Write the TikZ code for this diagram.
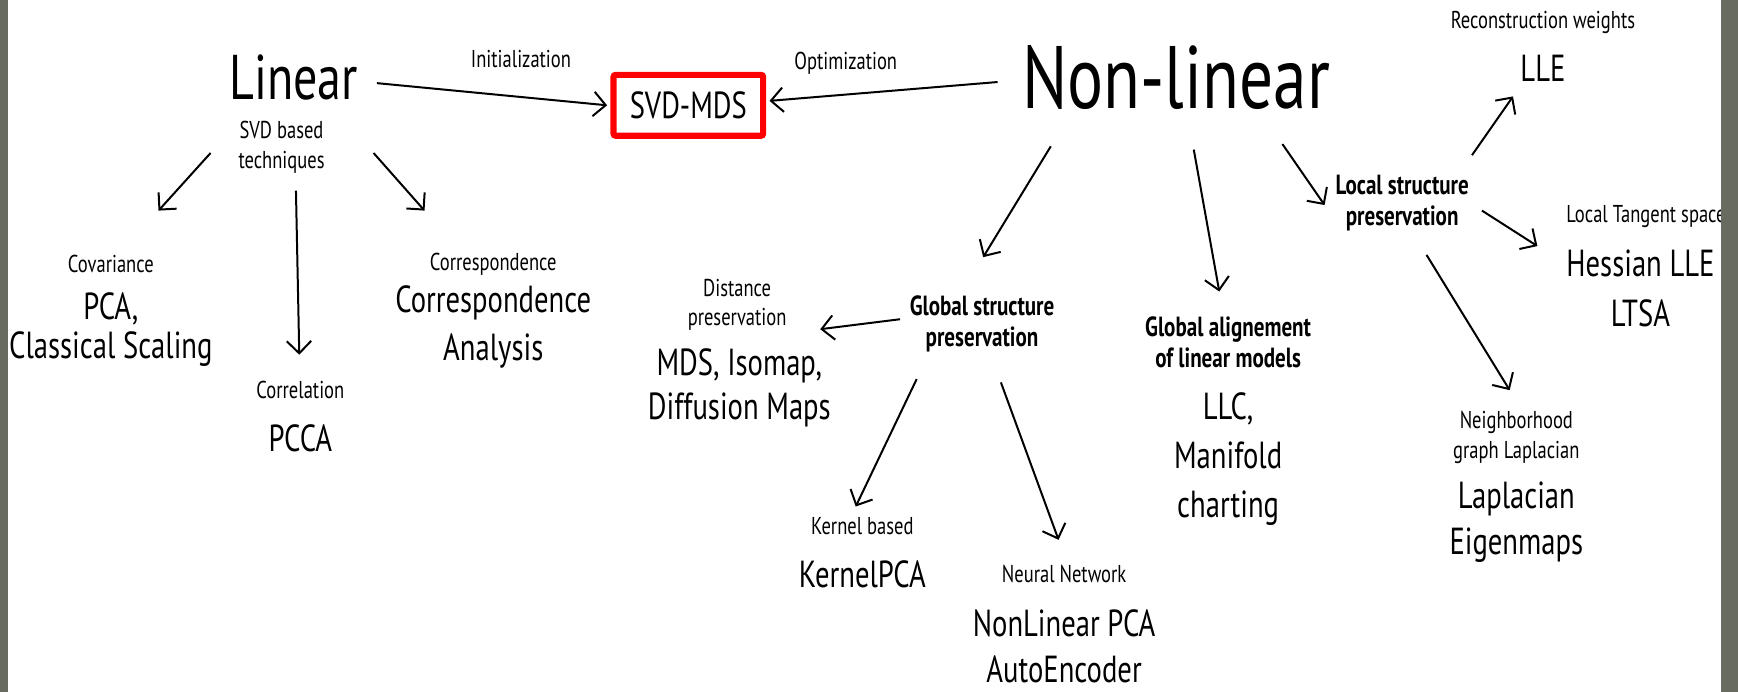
\documentclass[tikz,border=0pt]{standalone}
\usepackage{fontspec}
\setmainfont{PT Sans}[FakeStretch=0.76]
\usetikzlibrary{arrows.meta}
\definecolor{stripgrey}{RGB}{104,107,96}
\definecolor{boxred}{RGB}{255,0,0}
\begin{document}
\begin{tikzpicture}[x=1pt,y=-1pt,
  sm/.style={inner sep=0pt, align=center, font=\fontsize{22}{27}\selectfont},
  md/.style={inner sep=0pt, align=center, font=\fontsize{34}{#1}\selectfont},
  md/.default=40,
  bd/.style={inner sep=0pt, align=center, font=\bfseries\fontsize{25}{28}\selectfont},
  arr/.style={draw=black, line width=1.8pt, -{Straight Barb[length=11pt,width=22pt]}}]
\useasboundingbox (0,0) rectangle (1568,624);
\fill[white] (0,0) rectangle (1568,624);
% main nodes
\node[inner sep=0pt, font=\fontsize{57}{60}\selectfont] (lin) at (265,70) {Linear};
\node[sm] (svdb) at (254,133) {SVD based\\techniques};
\node[sm] (init) at (470,53) {Initialization};
\node[draw=boxred, line width=5.5pt, rounded corners=2pt, minimum width=135pt, minimum height=55pt, inner sep=0pt, font=\fontsize{34}{40}\selectfont] (svd) at (621,95) {SVD-MDS};
\node[sm] (opt) at (763,57) {Optimization};
\node[inner sep=0pt, font=\fontsize{80}{84}\selectfont] (nonlin) at (1061,70) {Non-linear};
% linear branch
\node[sm] (cov) at (100,238) {Covariance};
\node[md=35] (pca) at (100,297) {PCA,\\Classical Scaling};
\node[sm] (corrs) at (445,238) {Correspondence};
\node[md=43] (corra) at (445,295) {Correspondence\\Analysis};
\node[sm] (corl) at (271,352) {Correlation};
\node[md] (pcca) at (271,395) {PCCA};
% global structure
\node[bd] (glob) at (886,292) {Global structure\\preservation};
\node[sm] (dist) at (665,275) {Distance\\preservation};
\node[md] (mds) at (667,350) {MDS, Isomap,\\Diffusion Maps};
\node[sm] (kern) at (778,475) {Kernel based};
\node[md] (kpca) at (778,518) {KernelPCA};
\node[sm] (neur) at (960,518) {Neural Network};
\node[md=41] (nlpca) at (960,583) {NonLinear PCA\\AutoEncoder};
% global alignment
\node[bd] (galign) at (1108,309) {Global alignement\\of linear models};
\node[md=44] (llc) at (1108,414) {LLC,\\Manifold\\charting};
% local structure
\node[bd] (local) at (1265,183) {Local structure\\preservation};
\node[sm] (recw) at (1392,20) {Reconstruction weights};
\node[md] (lle) at (1392,62) {LLE};
\node[sm] (lts) at (1485,195) {Local Tangent space};
\node[md=45] (hess) at (1480,260) {Hessian LLE\\LTSA};
\node[sm] (neigh) at (1368,395) {Neighborhood\\graph Laplacian};
\node[md=42] (lapl) at (1368,471) {Laplacian\\Eigenmaps};
% connectors
\draw[arr] ([shift={(75,5)}]lin.center) -- ([shift={(-3,0)}]svd.west);
\draw[arr] ([shift={(-161,4)}]nonlin.center) -- ([shift={(3,-4)}]svd.east);
\draw[arr] ([shift={(-64,5)}]svdb.center) -- ([shift={(43,-48)}]cov.center);
\draw[arr] ([shift={(13,39)}]svdb.center) -- ([shift={(-1,-32)}]corl.center);
\draw[arr] ([shift={(83,5)}]svdb.center) -- ([shift={(-62,-48)}]corrs.center);
\draw[arr] ([shift={(-113,62)}]nonlin.center) -- ([shift={(1,-60)}]glob.center);
\draw[arr] ([shift={(16,65)}]nonlin.center) -- ([shift={(-8,-46)}]galign.center);
\draw[arr] ([shift={(96,60)}]nonlin.center) -- ([shift={(-70,2)}]local.center);
\draw[arr] ([shift={(63,-43)}]local.center) -- ([shift={(-27,25)}]lle.center);
\draw[arr] ([shift={(72,7)}]local.center) -- ([shift={(-98,27)}]lts.center);
\draw[arr] ([shift={(22,47)}]local.center) -- ([shift={(-6,-43)}]neigh.center);
\draw[arr] ([shift={(-74,-4)}]glob.center) -- ([shift={(75,22)}]dist.center);
\draw[arr] ([shift={(-59,50)}]glob.center) -- ([shift={(-6,-18)}]kern.center);
\draw[arr] ([shift={(17,53)}]glob.center) -- ([shift={(-5,-31)}]neur.center);
% side strips
\fill[stripgrey] (0,0) rectangle (7,624);
\fill[stripgrey] (1553,0) rectangle (1568,624);
\end{tikzpicture}
\end{document}
